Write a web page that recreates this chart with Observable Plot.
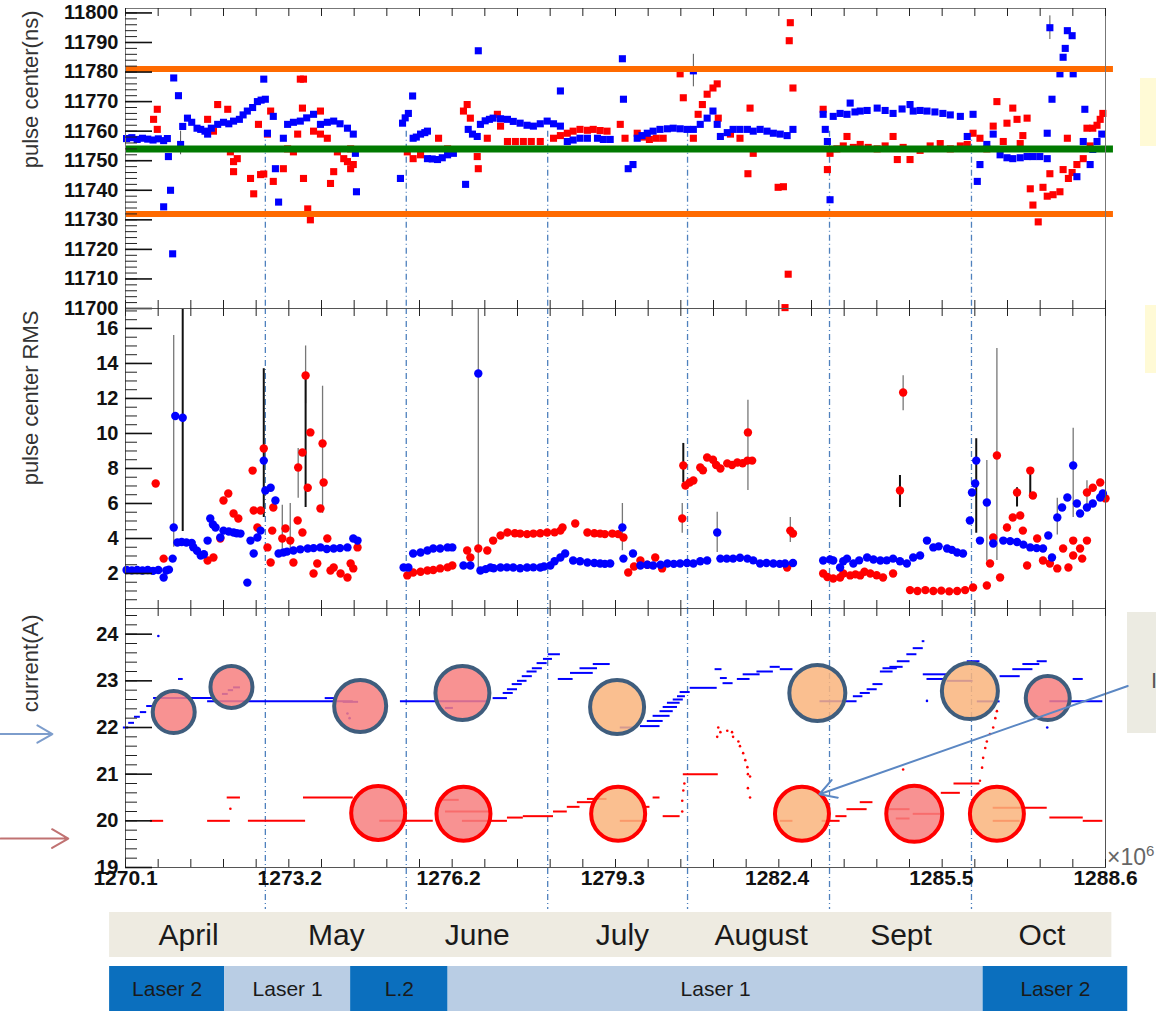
<!DOCTYPE html>
<html><head><meta charset="utf-8">
<script src="https://cdn.jsdelivr.net/npm/d3@7"></script>
<script src="https://cdn.jsdelivr.net/npm/@observablehq/plot@0.6"></script>
<style>
body{margin:0;background:#fff;}
#page{position:relative;width:1156px;height:1011px;overflow:hidden;font-family:Arial,"Liberation Sans",sans-serif;}
.deco{position:absolute;}
</style></head><body><div id="page"></div>
<script>
// ---------------- data ----------------
const X_DOMAIN = [1270.1, 1288.6];
const xLabels = [1270.1, 1273.2, 1276.2, 1279.3, 1282.4, 1285.5, 1288.6];
const monthBounds = [1272.74, 1275.40, 1278.07, 1280.71, 1283.39, 1286.07];

// top panel: pulse center (ns)
const centerRef = 11754;
const centerLimits = [11781, 11732];
const limitSpan = [1270.1, 1288.75];
const centerBlue = [
[1270.12,11757.5],[1270.22,11757.8],[1270.32,11757.2],[1270.42,11757.6],[1270.52,11757.3],[1270.62,11757.0],[1270.72,11757.4],[1270.82,11756.8],
[1270.82,11734.4],[1270.89,11757.5],[1270.91,11751.4],[1270.95,11740.0],[1270.99,11718.5],[1271.01,11778.0],[1271.10,11772.0],[1271.14,11755.5],
[1271.18,11761.6],[1271.27,11764.4],[1271.35,11763.0],[1271.45,11761.0],[1271.52,11760.6],[1271.60,11760.0],[1271.65,11759.0],[1271.72,11761.0],
[1271.84,11762.3],[1271.95,11763.0],[1272.05,11762.5],[1272.14,11763.4],[1272.25,11764.0],[1272.32,11765.5],[1272.40,11766.8],[1272.50,11768.0],
[1272.59,11770.0],[1272.66,11770.5],[1272.71,11777.6],[1272.74,11770.8],[1272.78,11759.3],[1272.89,11765.0],[1272.93,11747.3],[1272.99,11736.0],
[1273.08,11757.6],[1273.16,11762.3],[1273.27,11763.0],[1273.40,11763.4],[1273.52,11764.5],[1273.65,11765.7],[1273.78,11762.3],[1273.91,11763.0],
[1274.03,11763.4],[1274.15,11762.5],[1274.29,11761.0],[1274.40,11759.0],[1274.44,11752.5],[1274.46,11739.5],
[1275.29,11744.0],[1275.33,11762.7],[1275.38,11764.5],[1275.44,11766.0],[1275.52,11771.9],[1275.53,11757.6],[1275.59,11758.0],[1275.67,11759.0],
[1275.75,11759.5],[1275.80,11760.0],[1275.80,11750.7],[1275.89,11750.6],[1275.99,11750.4],[1276.08,11751.0],[1276.18,11752.0],[1276.29,11752.5],
[1276.52,11742.0],[1276.57,11760.6],[1276.65,11759.0],[1276.74,11758.2],[1276.76,11787.2],[1276.80,11762.3],[1276.89,11763.5],[1276.97,11764.0],
[1277.04,11764.4],[1277.18,11764.2],[1277.31,11764.0],[1277.42,11763.3],[1277.55,11762.7],[1277.68,11762.0],[1277.80,11761.7],[1277.93,11762.5],
[1278.06,11763.4],[1278.18,11762.5],[1278.31,11761.7],[1278.31,11773.6],[1278.44,11756.5],[1278.55,11757.0],[1278.68,11757.6],[1278.82,11757.6],
[1279.01,11757.6],[1279.12,11757.2],[1279.25,11757.2],
[1279.48,11784.5],[1279.50,11770.8],[1279.59,11747.3],[1279.68,11748.7],[1279.76,11757.6],[1279.85,11758.5],[1279.95,11759.3],[1280.06,11760.0],
[1280.19,11760.6],[1280.33,11760.8],[1280.44,11761.0],[1280.57,11760.8],[1280.70,11760.6],[1280.82,11780.4],[1280.82,11760.6],[1280.95,11762.3],
[1281.08,11764.4],[1281.19,11766.8],[1281.27,11762.3],[1281.33,11758.2],[1281.46,11759.5],[1281.57,11760.6],[1281.70,11760.6],[1281.84,11760.6],
[1281.95,11760.0],[1282.08,11760.6],[1282.21,11760.0],[1282.33,11759.3],[1282.46,11759.0],[1282.59,11758.5],[1282.70,11760.6],
[1283.27,11765.7],[1283.31,11760.6],[1283.35,11756.5],[1283.40,11736.8],[1283.46,11765.0],[1283.59,11766.0],[1283.72,11765.7],[1283.78,11769.5],
[1283.87,11766.5],[1283.97,11766.8],[1284.10,11767.0],[1284.29,11767.8],[1284.44,11767.0],[1284.59,11766.0],[1284.76,11767.5],[1284.91,11769.0],
[1284.97,11766.8],[1285.10,11767.0],[1285.23,11766.8],[1285.38,11766.5],[1285.53,11766.0],[1285.67,11765.5],[1285.86,11765.0],[1285.99,11758.2],
[1286.10,11765.7],[1286.18,11743.0],[1286.23,11748.7],[1286.36,11755.5],[1286.48,11759.0],[1286.61,11752.0],[1286.74,11751.0],[1286.85,11750.7],
[1286.99,11751.0],[1287.12,11751.4],[1287.23,11751.4],[1287.36,11751.4],[1287.50,11750.7],[1287.50,11759.3],[1287.55,11795.0],[1287.59,11770.8],
[1287.74,11779.4],[1287.80,11785.0],[1287.84,11788.0],[1287.88,11794.0],[1287.97,11792.3],[1287.99,11779.4],[1288.06,11744.6],[1288.18,11756.5],
[1288.21,11767.4],[1288.31,11748.7],[1288.36,11753.8],[1288.44,11756.5],[1288.53,11759.0]
];
const centerRed = [
[1270.63,11764.0],[1270.70,11767.4],[1270.70,11760.6],[1271.65,11764.0],[1271.76,11760.0],[1271.84,11769.0],[1272.03,11767.4],[1272.08,11753.0],
[1272.14,11749.7],[1272.21,11750.7],[1272.14,11746.3],[1272.46,11744.0],[1272.52,11738.8],[1272.61,11762.3],[1272.65,11745.3],[1272.71,11745.5],
[1272.78,11759.0],[1272.84,11766.8],[1272.89,11743.0],[1273.08,11747.3],[1273.16,11754.0],[1273.27,11753.0],[1273.35,11759.0],[1273.40,11777.6],
[1273.46,11777.6],[1273.44,11767.8],[1273.46,11744.0],[1273.54,11733.7],[1273.59,11730.0],[1273.65,11760.0],[1273.78,11766.8],[1273.78,11759.0],
[1273.91,11757.6],[1273.97,11742.3],[1274.03,11746.3],[1274.10,11753.0],[1274.22,11750.7],[1274.29,11749.7],[1274.35,11747.3],[1274.35,11754.0],
[1274.40,11748.7],
[1275.42,11753.0],[1275.53,11750.7],[1275.67,11752.0],[1276.01,11757.6],[1276.18,11754.0],[1276.48,11766.8],[1276.55,11769.0],[1276.61,11764.4],
[1276.74,11751.4],[1276.76,11747.3],[1276.93,11757.6],[1277.12,11765.7],[1277.18,11761.7],[1277.31,11756.5],[1277.46,11756.5],[1277.61,11756.5],
[1277.76,11756.5],[1277.93,11756.5],[1278.18,11757.6],[1278.31,11758.5],[1278.44,11759.3],[1278.55,11760.0],[1278.68,11760.6],[1278.82,11760.3],
[1278.93,11760.6],[1279.06,11760.2],[1279.19,11760.0],[1279.44,11762.3],[1279.53,11757.6],[1279.76,11759.3],[1279.87,11758.0],[1279.99,11757.2],
[1280.12,11757.6],[1280.25,11757.6],[1280.57,11779.4],[1280.63,11771.3],[1280.82,11757.6],[1280.91,11765.7],[1280.99,11769.0],[1281.08,11772.5],
[1281.19,11774.6],[1281.27,11776.0],[1281.29,11764.4],[1281.52,11759.0],[1281.70,11757.6],[1281.85,11745.6],[1281.89,11767.8],[1281.95,11752.5],
[1282.42,11741.0],[1282.52,11741.2],[1282.61,11711.6],[1282.55,11700.3],[1282.63,11790.6],[1282.65,11796.7],[1282.70,11774.6],
[1283.27,11767.4],[1283.35,11747.0],[1283.40,11752.5],[1283.53,11754.0],[1283.65,11755.0],[1283.72,11758.2],[1283.84,11754.5],[1283.97,11755.5],
[1284.12,11754.5],[1284.29,11754.0],[1284.44,11755.0],[1284.59,11758.2],[1284.67,11750.4],[1284.78,11754.5],[1284.91,11750.4],[1285.10,11753.5],
[1285.29,11755.0],[1285.48,11755.8],[1285.67,11754.0],[1285.86,11755.0],[1285.99,11755.5],[1286.10,11759.3],[1286.23,11757.6],[1286.36,11754.0],
[1286.48,11761.7],[1286.55,11770.0],[1286.67,11756.5],[1286.74,11762.7],[1286.85,11767.8],[1286.93,11764.0],[1286.99,11755.8],[1287.04,11758.5],
[1287.12,11764.4],[1287.18,11740.5],[1287.23,11735.0],[1287.33,11729.3],[1287.42,11741.0],[1287.50,11738.0],[1287.55,11745.6],[1287.61,11738.5],
[1287.74,11739.5],[1287.80,11747.0],[1287.88,11757.6],[1287.90,11744.0],[1287.97,11746.0],[1288.06,11748.7],[1288.18,11750.7],[1288.25,11761.0],
[1288.31,11755.0],[1288.36,11761.0],[1288.44,11762.0],[1288.50,11764.0],[1288.55,11766.0]
];
const centerErr = [[1271.14,11752,11760],[1280.82,11775,11786],[1287.55,11791,11799]];

// middle panel: pulse center RMS
const rmsBlue = [
[1270.12,2.2],[1270.22,2.18],[1270.32,2.2],[1270.42,2.17],[1270.52,2.2],[1270.62,2.15],[1270.72,2.2],[1270.82,1.77],[1270.87,2.17],[1270.92,2.22],
[1270.99,2.85],[1271.01,4.63],[1271.04,11.0],[1271.18,10.9],[1271.08,3.77],[1271.16,3.8],[1271.25,3.77],[1271.35,3.75],[1271.38,3.5],[1271.45,3.3],
[1271.52,3.03],[1271.58,3.1],[1271.65,3.88],[1271.70,5.14],[1271.75,4.8],[1271.80,4.63],[1271.89,4.06],[1271.95,4.45],[1272.05,4.4],[1272.14,4.34],
[1272.20,4.3],[1272.27,4.28],[1272.40,1.48],[1272.46,3.88],[1272.52,3.14],[1272.59,4.06],[1272.65,4.45],[1272.71,8.45],[1272.74,6.74],[1272.84,6.9],
[1272.93,6.17],[1272.99,3.14],[1273.08,3.2],[1273.15,3.25],[1273.27,3.31],[1273.40,3.38],[1273.54,3.43],[1273.65,3.45],[1273.78,3.49],[1273.90,3.4],
[1274.03,3.43],[1274.15,3.45],[1274.29,3.49],[1274.40,4.0],[1274.48,3.88],
[1275.35,2.34],[1275.44,2.34],[1275.53,3.14],[1275.67,3.2],[1275.80,3.31],[1275.91,3.43],[1276.04,3.43],[1276.18,3.49],[1276.27,3.49],
[1276.48,2.46],[1276.61,2.46],[1276.76,13.43],[1276.80,2.17],[1276.90,2.25],[1276.99,2.34],[1277.05,2.3],[1277.18,2.34],[1277.30,2.35],[1277.42,2.34],
[1277.55,2.3],[1277.68,2.34],[1277.80,2.35],[1277.93,2.34],[1278.00,2.4],[1278.12,2.46],[1278.20,2.7],[1278.31,2.91],[1278.40,3.14],[1278.55,2.74],
[1278.68,2.7],[1278.82,2.63],[1278.95,2.6],[1279.06,2.57],[1279.15,2.55],[1279.25,2.57],[1279.48,4.63],[1279.50,2.85],[1279.68,3.14],[1279.82,2.46],
[1279.95,2.5],[1280.06,2.46],[1280.20,2.5],[1280.33,2.57],[1280.45,2.55],[1280.57,2.57],[1280.70,2.6],[1280.82,2.57],[1280.95,2.7],[1281.08,2.74],
[1281.27,4.34],[1281.33,2.85],[1281.45,2.85],[1281.57,2.85],[1281.70,2.9],[1281.84,2.85],[1281.95,2.75],[1282.08,2.57],[1282.20,2.6],[1282.33,2.57],
[1282.45,2.55],[1282.55,2.57],[1282.70,2.6],
[1283.27,2.74],[1283.40,2.8],[1283.46,2.74],[1283.59,2.34],[1283.65,2.7],[1283.72,2.85],[1283.84,2.57],[1283.95,2.75],[1284.10,2.91],[1284.22,2.8],
[1284.35,2.74],[1284.47,2.75],[1284.59,2.85],[1284.72,2.7],[1284.85,2.57],[1284.97,2.91],[1285.10,3.03],[1285.23,3.88],[1285.35,3.49],[1285.45,3.55],
[1285.61,3.43],[1285.70,3.35],[1285.80,3.2],[1285.91,3.14],[1286.04,5.03],[1286.08,6.63],[1286.14,7.14],[1286.16,8.45],[1286.23,3.88],[1286.36,6.06],
[1286.48,3.71],[1286.67,3.88],[1286.80,3.85],[1286.93,3.8],[1287.05,3.65],[1287.18,3.49],[1287.30,3.45],[1287.42,3.43],[1287.52,4.17],[1287.59,2.91],
[1287.69,5.2],[1287.78,5.77],[1287.88,6.34],[1287.99,8.17],[1288.06,6.0],[1288.12,5.43],[1288.25,5.77],[1288.36,6.0],[1288.50,6.34],[1288.55,6.57]
];
const rmsRed = [
[1270.67,7.14],[1270.82,2.85],[1271.65,2.74],[1271.76,2.91],[1271.89,4.0],[1271.95,6.17],[1272.04,6.57],[1272.14,5.43],[1272.23,5.14],[1272.50,7.88],
[1272.52,5.6],[1272.59,4.63],[1272.65,5.6],[1272.71,9.14],[1272.78,3.49],[1272.84,2.63],[1272.87,4.45],[1272.89,5.77],[1273.06,4.0],[1273.12,4.57],
[1273.21,3.88],[1273.27,2.63],[1273.35,5.03],[1273.36,8.06],[1273.44,8.91],[1273.44,4.34],[1273.50,13.31],[1273.54,6.9],[1273.59,10.06],[1273.65,2.0],
[1273.72,2.57],[1273.82,9.43],[1273.84,7.2],[1273.78,5.71],[1273.91,4.0],[1273.97,2.17],[1274.03,2.34],[1274.16,2.0],[1274.29,1.77],[1274.35,2.57],
[1274.40,2.29],[1274.48,3.49],
[1275.42,1.89],[1275.53,2.06],[1275.67,2.1],[1275.80,2.17],[1275.91,2.2],[1276.04,2.29],[1276.18,2.35],[1276.27,2.46],[1276.55,3.31],[1276.61,2.91],
[1276.76,3.43],[1276.93,3.31],[1277.04,3.88],[1277.18,4.17],[1277.31,4.34],[1277.45,4.3],[1277.55,4.28],[1277.68,4.25],[1277.80,4.28],[1277.93,4.3],
[1278.06,4.34],[1278.20,4.35],[1278.31,4.45],[1278.35,4.63],[1278.59,4.86],[1278.82,4.34],[1278.95,4.3],[1279.06,4.28],[1279.15,4.25],[1279.29,4.28],
[1279.40,4.25],[1279.50,4.06],[1279.59,2.06],[1279.70,2.4],[1279.82,2.74],[1279.95,2.5],[1280.10,2.91],[1280.23,2.29],[1280.61,5.14],[1280.63,8.17],
[1280.67,7.03],[1280.75,7.2],[1280.82,7.31],[1280.95,8.06],[1281.00,7.9],[1281.08,8.63],[1281.19,8.5],[1281.25,8.2],[1281.33,8.0],[1281.46,8.29],
[1281.55,8.2],[1281.65,8.34],[1281.75,8.3],[1281.84,8.45],[1281.85,10.06],[1281.93,8.45],
[1282.59,2.34],[1282.65,4.45],[1282.70,4.28],[1283.27,2.0],[1283.35,1.8],[1283.46,1.71],[1283.59,1.77],[1283.65,2.0],[1283.78,1.89],[1283.88,1.95],
[1283.97,1.89],[1284.05,2.1],[1284.16,2.0],[1284.28,1.9],[1284.40,1.77],[1284.59,2.0],[1284.72,6.74],[1284.78,12.34],[1284.91,1.05],[1285.05,1.0],
[1285.20,1.05],[1285.35,1.0],[1285.50,1.02],[1285.65,0.98],[1285.80,1.0],[1285.95,1.05],[1286.10,1.2],[1286.36,1.31],[1286.42,2.57],[1286.48,4.06],
[1286.55,8.74],[1286.61,1.77],[1286.74,4.63],[1286.85,5.2],[1286.93,6.63],[1286.99,5.31],[1287.04,4.45],[1287.12,2.46],[1287.18,7.88],[1287.23,6.46],
[1287.31,4.0],[1287.42,2.74],[1287.55,2.57],[1287.69,2.29],[1287.80,3.43],[1287.90,2.34],[1287.99,3.88],[1287.99,3.03],[1288.12,3.43],[1288.16,2.85],
[1288.25,3.88],[1288.25,6.63],[1288.36,6.9],[1288.50,7.2],[1288.60,6.29]
];
const rmsErrDark = [
[1271.18,4.4,17.1],[1272.71,5.2,13.7],[1273.50,5.77,13.3],[1280.63,7.2,9.43],[1284.72,5.77,7.6],[1286.16,4.3,9.7],[1286.93,5.8,6.9],[1287.18,6.3,7.9]
];
const rmsErrLight = [
[1271.01,3.5,15.6],[1276.76,2.0,17.1],[1273.36,6.3,9.14],[1273.50,11.7,15.0],[1273.82,5.43,12.7],[1279.48,3.3,6.0],[1281.27,3.2,5.5],
[1280.61,4.3,6.0],[1281.85,6.74,11.9],[1282.65,3.77,5.2],[1284.78,11.3,13.3],[1286.55,2.74,14.86],[1286.36,2.7,8.45],[1287.99,5.2,10.3],
[1273.06,3.4,5.9],[1273.21,3.3,6.0],[1287.69,4.2,6.3],[1288.25,5.8,7.3]
];

// bottom panel: current (A), horizontal steps [t1, t2, value]
const currentBlue = [
[1270.06,1270.16,22.0],[1270.16,1270.27,22.1],[1270.27,1270.38,22.23],[1270.38,1270.50,22.33],[1270.50,1270.61,22.46],[1270.63,1271.76,22.63],
[1271.65,1274.40,22.56],[1271.10,1271.19,23.04],[1271.93,1272.04,22.72],[1272.04,1272.14,22.8],[1272.14,1272.27,22.86],[1273.87,1274.10,22.63],
[1274.21,1274.50,22.55],[1275.29,1276.99,22.56],[1276.14,1276.29,22.42],[1277.04,1277.31,22.63],[1277.23,1277.42,22.74],[1277.31,1277.50,22.82],
[1277.40,1277.59,22.93],[1277.50,1277.68,23.0],[1277.59,1277.78,23.1],[1277.68,1277.87,23.2],[1277.78,1277.97,23.27],[1277.87,1278.06,23.38],
[1277.99,1278.16,23.47],[1278.08,1278.31,23.57],[1278.27,1278.55,23.04],[1278.50,1278.93,23.17],[1278.68,1279.01,23.27],[1278.93,1279.25,23.36],
[1279.44,1279.68,22.0],[1279.82,1280.19,22.03],[1279.95,1280.25,22.14],[1280.06,1280.38,22.25],[1280.19,1280.44,22.35],[1280.25,1280.52,22.44],
[1280.33,1280.57,22.53],[1280.44,1280.63,22.6],[1280.52,1280.67,22.67],[1280.57,1280.76,22.76],[1280.76,1281.27,22.85],[1281.23,1281.36,23.25],
[1281.33,1281.46,23.06],[1281.38,1281.57,22.95],[1281.65,1281.89,23.04],[1281.76,1282.08,23.14],[1282.02,1282.33,23.2],[1282.27,1282.46,23.3],
[1282.46,1282.70,23.25],[1283.21,1283.91,22.56],[1283.84,1284.02,22.67],[1283.97,1284.16,22.74],[1284.10,1284.29,22.82],[1284.21,1284.40,22.93],
[1284.35,1284.59,23.2],[1284.40,1284.67,23.27],[1284.53,1284.78,23.3],[1284.67,1284.91,23.42],[1284.85,1285.04,23.57],[1284.97,1285.16,23.7],
[1285.14,1285.19,23.85],[1285.16,1285.61,23.14],[1285.23,1285.61,23.04],[1285.61,1286.10,23.0],[1285.99,1286.23,23.42],[1286.18,1286.61,22.56],
[1286.61,1286.99,23.1],[1286.85,1287.23,23.25],[1287.04,1287.36,23.36],[1287.31,1287.50,23.42],[1287.99,1288.18,23.04],[1287.55,1288.55,22.56]
];
const currentBlueDots = [[1270.72,23.96],[1274.29,22.3],[1274.33,22.2],[1287.50,22.0],[1285.23,22.57]];
const currentRed = [
[1270.57,1270.82,20.0],[1271.65,1272.08,20.0],[1272.02,1272.27,20.5],[1272.42,1273.50,20.0],[1273.46,1274.40,20.5],[1274.90,1275.91,20.0],
[1276.08,1276.40,20.45],[1276.14,1276.99,20.2],[1276.46,1276.99,20.0],[1276.99,1277.31,20.0],[1277.31,1277.61,20.07],[1277.61,1278.18,20.1],
[1278.18,1278.44,20.2],[1278.44,1278.68,20.3],[1278.63,1278.93,20.4],[1278.82,1279.19,20.47],[1279.44,1279.95,20.0],[1279.87,1280.00,20.3],
[1280.06,1280.19,20.5],[1280.25,1280.57,20.1],[1280.63,1281.29,21.0],[1282.46,1282.70,20.0],[1283.25,1283.59,20.0],[1283.51,1283.72,20.1],
[1283.72,1284.10,20.25],[1283.97,1284.21,20.4],[1284.48,1284.91,20.25],[1284.65,1284.91,20.05],[1284.97,1285.53,20.15],[1285.50,1285.86,20.6],
[1285.74,1286.23,20.8],[1286.48,1287.50,20.28],[1286.48,1286.99,20.0],[1287.55,1288.18,20.07],[1288.18,1288.55,20.0]
];
const currentRedDots = [
[1272.08,20.26],[1280.61,20.2],[1280.61,20.43],[1280.63,20.65],[1280.65,20.8],[1281.27,21.8],[1281.29,22.0],[1281.33,21.9],[1281.46,21.93],
[1281.55,21.9],[1281.57,21.8],[1281.67,21.7],[1281.70,21.6],[1281.76,21.45],[1281.80,21.3],[1281.84,21.15],[1281.85,21.0],[1281.89,20.95],
[1281.85,20.7],[1281.89,20.5],[1284.78,21.1],[1286.23,20.86],[1286.27,21.14],[1286.29,21.35],[1286.33,21.56],[1286.36,21.7],[1286.42,21.86],
[1286.48,22.0],[1286.52,22.2],[1286.55,22.35]
];
// highlight circles
const circleT = [1271.01,1272.10,1274.53,1276.46,1279.38,1283.16,1286.04,1287.51,1274.87,1276.48,1279.40,1282.87,1284.99,1286.55];
const circleV = [22.33,22.87,22.46,22.74,22.44,22.74,22.78,22.63,20.17,20.15,20.15,20.15,20.15,20.15];
const circleSize = [21,21,26,27,27,28,28,22,27,27,27,27,28,27];
const circleRing = ["laser","laser","laser","laser","laser","laser","laser","laser","red","red","red","red","red","red"];
const circleTone = ["pink","pink","pink","pink","orange","orange","orange","pink","pink","pink","orange","orange","pink","orange"];
// annotation arrows [t1, v1, t2, v2]
const pointerArrow = [[1289.02, 22.89, 1283.20, 20.57]];
const sideArrows = [[1267.74, 21.86, 1268.72, 21.86, "blue"], [1267.74, 19.62, 1269.02, 19.62, "red"]];

// timeline below
const monthNames = ["April","May","June","July","August","Sept","Oct"];
const monthCenters = [1271.29, 1274.08, 1276.74, 1279.48, 1282.10, 1284.74, 1287.40];
const monthBar = [1269.80, 1288.72];
const laserNames = ["Laser 2","Laser 1","L.2","Laser 1","Laser 2"];
const laserKind = [2, 1, 2, 1, 2];
const laserStarts = [1269.80, 1271.97, 1274.35, 1276.19, 1286.29];
const laserEnds = [1271.97, 1274.35, 1276.19, 1286.29, 1289.02];

// ---------------- drawing ----------------
const W = 1156, ML = 125, MR = 51;
const page = document.getElementById("page");
const xPerPx = (X_DOMAIN[1] - X_DOMAIN[0]) / (W - ML - MR);
const xMinor = d3.range(31).map(k => X_DOMAIN[0] + k * (X_DOMAIN[1] - X_DOMAIN[0]) / 30);
const dashColor = "#4f81bd";
const baseStyle = {background: "transparent", overflow: "visible", color: "#111", fontFamily: "Arial, 'Liberation Sans', sans-serif"};

// inward tick marks drawn with rules through the panel's scales
function xTickMarks(yDomain, innerH) {
  const yPerPx = (yDomain[1] - yDomain[0]) / innerH;
  const len = 8 * yPerPx;
  return [
    Plot.ruleX(xMinor, {y1: yDomain[1], y2: yDomain[1] - len, stroke: "#222"}),
    Plot.ruleX(xMinor, {y1: yDomain[0], y2: yDomain[0] + len, stroke: "#222"})
  ];
}
function yTickMarks(minor, major, labels, fmt) {
  return [
    Plot.ruleY(minor, {x1: X_DOMAIN[0], x2: X_DOMAIN[0] + 12 * xPerPx, stroke: "#222"}),
    Plot.ruleY(major, {x1: X_DOMAIN[0], x2: X_DOMAIN[0] + 27 * xPerPx, stroke: "#111", strokeWidth: 1.6}),
    Plot.axisY({ticks: labels, anchor: "left", tickSize: 0, tickPadding: 7, tickFormat: fmt, fontSize: 20, fontWeight: "bold", label: null})
  ];
}
function title(text, dy) {
  return Plot.text([text], {frameAnchor: "top-left", rotate: -90, textAnchor: "end", dx: -103, dy, fontSize: 22, fill: "#333"});
}
function place(el, top) {
  el.style.position = "absolute";
  el.style.left = "0px";
  el.style.top = top + "px";
  page.appendChild(el);
}

// top panel
const topY = [11700, 11801.5];
const topPanel = Plot.plot({
  width: W, height: 308, marginLeft: ML, marginRight: MR, marginTop: 8, marginBottom: 0,
  style: baseStyle,
  x: {domain: X_DOMAIN, axis: null},
  y: {domain: topY, axis: null},
  marks: [
    Plot.ruleX(monthBounds, {y1: 11760, y2: 11700, stroke: dashColor, strokeWidth: 1.3, strokeDasharray: "6,3,1,3"}),
    Plot.ruleX(centerErr, {x: d => d[0], y1: d => d[1], y2: d => d[2], stroke: "#555"}),
    Plot.dot(centerRed, {x: d => d[0], y: d => d[1], symbol: "square", r: 4, fill: "#ff0000"}),
    Plot.dot(centerBlue, {x: d => d[0], y: d => d[1], symbol: "square", r: 4, fill: "#0000ff"}),
    Plot.ruleY(centerLimits, {x1: limitSpan[0], x2: limitSpan[1], stroke: "#ff6a00", strokeWidth: 6}),
    Plot.ruleY([centerRef], {x1: limitSpan[0], x2: limitSpan[1], stroke: "#007a00", strokeWidth: 7}),
    Plot.frame({stroke: "#777"}),
    ...xTickMarks(topY, 300),
    ...yTickMarks(d3.range(11700, 11801, 2), d3.range(11700, 11801, 10), d3.range(11700, 11801, 10), d => String(d)),
    title("pulse center(ns)", 2)
  ]
});
place(topPanel, 0);

// middle panel
const midY = [0, 17.14];
const midPanel = Plot.plot({
  width: W, height: 300, marginLeft: ML, marginRight: MR, marginTop: 0, marginBottom: 0,
  style: baseStyle,
  x: {domain: X_DOMAIN, axis: null},
  y: {domain: midY, axis: null},
  marks: [
    Plot.ruleX(monthBounds, {stroke: dashColor, strokeWidth: 1.3, strokeDasharray: "6,3,1,3"}),
    Plot.ruleX(rmsErrLight, {x: d => d[0], y1: d => d[1], y2: d => d[2], stroke: "#777", strokeWidth: 1.3}),
    Plot.ruleX(rmsErrDark, {x: d => d[0], y1: d => d[1], y2: d => d[2], stroke: "#111", strokeWidth: 2}),
    Plot.dot(rmsRed, {x: d => d[0], y: d => d[1], r: 4.2, fill: "#ff0000"}),
    Plot.dot(rmsBlue, {x: d => d[0], y: d => d[1], r: 4.2, fill: "#0000ff"}),
    Plot.frame({stroke: "#555"}),
    ...xTickMarks(midY, 300),
    ...yTickMarks(d3.range(0.5, 17.1, 0.5), d3.range(2, 17, 2), d3.range(2, 17, 2), d => String(d)),
    title("pulse center RMS", 2)
  ]
});
place(midPanel, 308);

// bottom panel
const botY = [19, 24.55];
const circles = circleT.map((t, i) => ({t, v: circleV[i], r: circleSize[i], ring: circleRing[i], tone: circleTone[i]}));
const ringColor = {laser: "#3f5d7d", red: "#ff0000"};
const toneColor = {pink: "#f77f7f", orange: "#f9b47c"};
const botPanel = Plot.plot({
  width: W, height: 310, marginLeft: ML, marginRight: MR, marginTop: 0, marginBottom: 51,
  style: baseStyle,
  x: {domain: X_DOMAIN, axis: null},
  y: {domain: botY, axis: null},
  r: {type: "identity"},
  marks: [
    Plot.ruleX(monthBounds, {y1: 24.55, y2: 18.1, stroke: dashColor, strokeWidth: 1.3, strokeDasharray: "6,3,1,3"}),
    Plot.ruleY(currentRed, {x1: d => d[0], x2: d => d[1], y: d => d[2], stroke: "#ff0000", strokeWidth: 2}),
    Plot.dot(currentRedDots, {x: d => d[0], y: d => d[1], r: 1.3, fill: "#ff0000"}),
    Plot.ruleY(currentBlue, {x1: d => d[0], x2: d => d[1], y: d => d[2], stroke: "#0000ff", strokeWidth: 2}),
    Plot.dot(currentBlueDots, {x: d => d[0], y: d => d[1], r: 1.3, fill: "#0000ff"}),
    Plot.dot(circles, {x: "t", y: "v", r: "r", fill: d => toneColor[d.tone], fillOpacity: 0.85,
      stroke: d => ringColor[d.ring], strokeWidth: 4}),
    Plot.arrow(pointerArrow, {x1: d => d[0], y1: d => d[1], x2: d => d[2], y2: d => d[3], stroke: "#5b87c3", strokeWidth: 2, headLength: 14}),
    Plot.arrow(sideArrows, {x1: d => d[0], y1: d => d[1], x2: d => d[2], y2: d => d[3],
      stroke: d => d[4] === "blue" ? "#7d9dcc" : "#c07272", strokeWidth: 2, headLength: 14}),
    Plot.frame({stroke: "#555"}),
    ...xTickMarks(botY, 259),
    ...yTickMarks(d3.range(19, 24.51, 0.2), d3.range(19, 24.1, 1), d3.range(19, 24.1, 1), d => String(d)),
    Plot.axisX({ticks: xLabels, anchor: "bottom", tickSize: 0, tickPadding: 3, tickFormat: d => d.toFixed(1),
      fontSize: 21, fontWeight: "bold", label: null}),
    title("current(A)", 6)
  ]
});

// decorations around the panels
const beige = document.createElement("div");
beige.className = "deco";
Object.assign(beige.style, {left: "1127px", top: "612px", width: "40px", height: "121px", background: "#ecebe2", overflow: "hidden"});
beige.innerHTML = '<span style="position:absolute;left:24px;top:56px;font-size:22px;color:#555">I</span>';
page.appendChild(beige);
const y1 = document.createElement("div");
y1.className = "deco";
Object.assign(y1.style, {left: "1140px", top: "78px", width: "20px", height: "68px", background: "#fffad6"});
page.appendChild(y1);
const y2 = document.createElement("div");
y2.className = "deco";
Object.assign(y2.style, {left: "1145px", top: "305px", width: "20px", height: "68px", background: "#fffad6"});
page.appendChild(y2);

place(botPanel, 608);

const mult = document.createElement("div");
mult.className = "deco";
Object.assign(mult.style, {left: "1107px", top: "843px", fontSize: "23px", color: "#666", whiteSpace: "nowrap", lineHeight: "1"});
mult.innerHTML = "×10<sup style='font-size:15px'>6</sup>";
page.appendChild(mult);

// timeline
const timeline = Plot.plot({
  width: W, height: 100, marginLeft: ML, marginRight: MR, marginTop: 0, marginBottom: 0,
  style: baseStyle,
  x: {domain: X_DOMAIN, axis: null},
  y: {domain: ["month", "laser"], axis: null, paddingInner: 0.17, paddingOuter: 0},
  marks: [
    Plot.barX([monthBar], {x1: d => d[0], x2: d => d[1], y: () => "month", fill: "#eeebe1"}),
    Plot.text(monthNames, {x: (d, i) => monthCenters[i], y: () => "month", fontSize: 30, fill: "#1a1a1a"}),
    Plot.barX(laserNames, {x1: (d, i) => laserStarts[i], x2: (d, i) => laserEnds[i], y: () => "laser",
      fill: (d, i) => laserKind[i] === 2 ? "#0b6fbe" : "#b9cde4"}),
    Plot.text(laserNames, {x: (d, i) => (laserStarts[i] + laserEnds[i]) / 2, y: () => "laser", fontSize: 21, fill: "#1a1a1a"})
  ]
});
place(timeline, 911);
</script></body></html>
